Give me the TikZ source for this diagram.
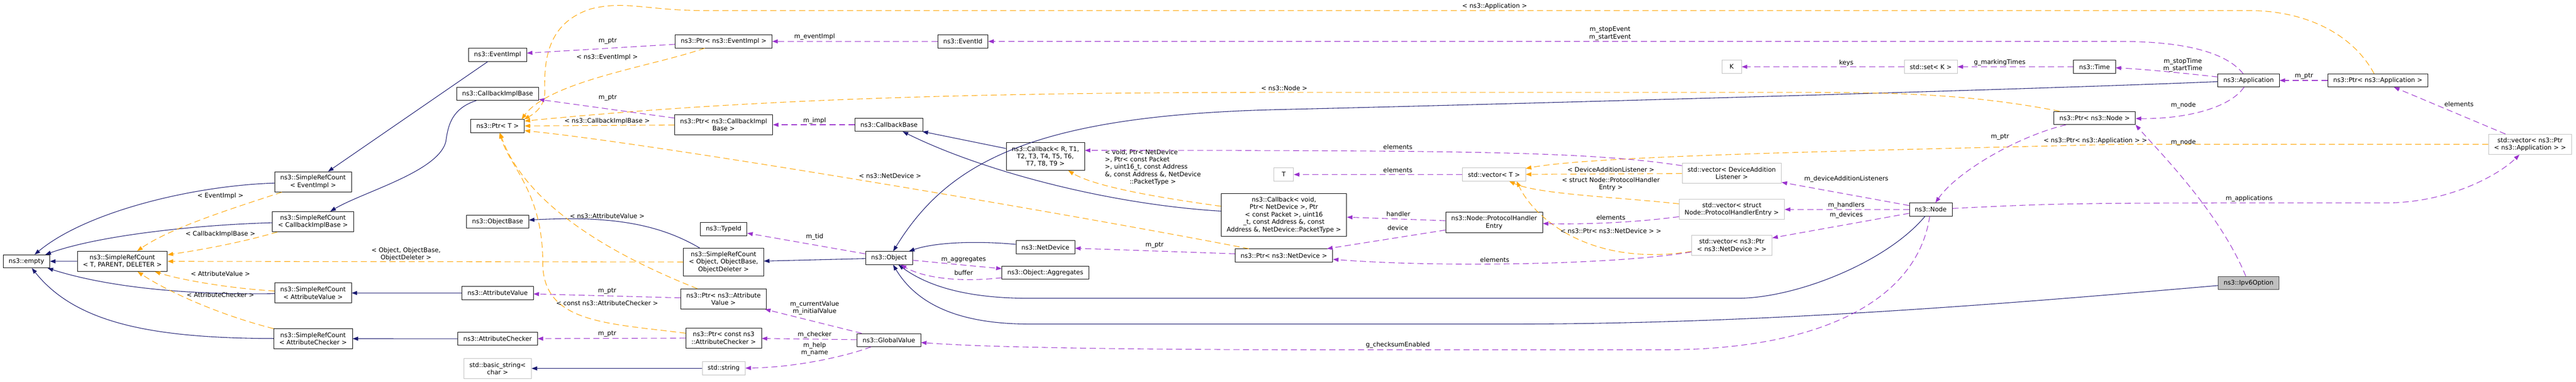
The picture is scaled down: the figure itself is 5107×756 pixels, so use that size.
\documentclass[tikz,border=0pt]{standalone}
\usepackage{fontspec}
\setmainfont{DejaVu Sans}
\usetikzlibrary{arrows.meta}

\definecolor{inhblue}{HTML}{191970}
\definecolor{usepurple}{HTML}{9A32CD}
\definecolor{tplorange}{HTML}{FFA500}
\definecolor{extgray}{HTML}{BFBFBF}
\definecolor{rootgray}{HTML}{404040}

\newcommand{\dxfont}{\fontsize{12.4}{14.7}\selectfont}

\tikzset{
  cls/.style = {draw=black, fill=white, line width=0.9pt, inner xsep=11pt, inner ysep=0pt,
    minimum height=26pt, align=center, font=\dxfont},
  ext/.style = {cls, draw=extgray},
  root/.style = {cls, fill=extgray, draw=rootgray},
  two/.style = {minimum height=40pt},
  three/.style = {minimum height=55pt},
  five/.style = {minimum height=85pt},
  lbl/.style = {inner sep=0pt, align=center, font=\dxfont},
  inh/.style = {draw=inhblue, line width=1.1pt, -{Triangle[length=11pt, width=8pt]}},
  usage/.style = {draw=usepurple, line width=1.1pt, dash pattern=on 12pt off 7pt,
    -{Triangle[length=11pt, width=8pt]}},
  tmpl/.style = {draw=tplorange, line width=1.1pt, dash pattern=on 12pt off 7pt,
    -{Triangle[length=11pt, width=8pt]}},
}

\begin{document}
\begin{tikzpicture}[x=1pt, y=-1pt]
  \fill[white] (0,0) rectangle (5107,756);
  \useasboundingbox (0,0) rectangle (5107,756);

  \node[cls] (empty) at (52.4,517.8) {ns3::empty};
  \node[cls, two] (srcT) at (242.5,517.7) {ns3::SimpleRefCount\\< T, PARENT, DELETER >};
  \node[cls, two] (srcEvent) at (620.7,360.3) {ns3::SimpleRefCount\\< EventImpl >};
  \node[cls, two] (srcCb) at (620.5,439.2) {ns3::SimpleRefCount\\< CallbackImplBase >};
  \node[cls, two] (srcAttrVal) at (620.7,580.5) {ns3::SimpleRefCount\\< AttributeValue >};
  \node[cls, two] (srcAttrChk) at (620.7,671) {ns3::SimpleRefCount\\< AttributeChecker >};

  \node[cls] (eventImpl) at (986.5,108.7) {ns3::EventImpl};
  \node[cls] (cbImplBase) at (986.5,185.8) {ns3::CallbackImplBase};
  \node[cls] (ptrT) at (986.5,249.8) {ns3::Ptr< T >};
  \node[cls] (objectBase) at (986.5,439.2) {ns3::ObjectBase};
  \node[cls] (attrVal) at (986.5,580.5) {ns3::AttributeValue};
  \node[cls] (attrChk) at (986.5,671.2) {ns3::AttributeChecker};
  \node[ext, two] (basicString) at (986.5,730) {std::basic\_string<\\char >};

  \node[cls] (ptrEvent) at (1434.6,82) {ns3::Ptr< ns3::EventImpl >};
  \node[cls, two] (ptrCb) at (1434.6,247.2) {ns3::Ptr< ns3::CallbackImpl\\Base >};
  \node[cls] (typeId) at (1434.6,453.8) {ns3::TypeId};
  \node[cls, three] (srcObject) at (1434.4,519.2) {ns3::SimpleRefCount\\< Object, ObjectBase,\\ObjectDeleter >};
  \node[cls, two] (ptrAttrVal) at (1434.4,592.3) {ns3::Ptr< ns3::Attribute\\Value >};
  \node[cls, two] (ptrAttrChk) at (1434.7,669.7) {ns3::Ptr< const ns3\\::AttributeChecker >};
  \node[ext] (stdString) at (1434.7,729.8) {std::string};

  \node[cls] (eventId) at (1908.8,82) {ns3::EventId};
  \node[cls] (cbBase) at (1762.5,247.2) {ns3::CallbackBase};
  \node[cls] (object) at (1762.5,511.2) {ns3::Object};
  \node[cls] (globalValue) at (1762.3,673.8) {ns3::GlobalValue};
  \node[cls, three] (callbackR) at (2072.5,310) {ns3::Callback< R, T1,\\T2, T3, T4, T5, T6,\\T7, T8, T9 >};
  \node[cls] (netDevice) at (2072.5,489.8) {ns3::NetDevice};
  \node[cls] (aggregates) at (2072.5,540.5) {ns3::Object::Aggregates};

  \node[cls, five] (callbackVoid) at (2545.4,425.8) {ns3::Callback< void,\\Ptr< NetDevice >, Ptr\\< const Packet >, uint16\\\_t, const Address \&, const\\Address \&, NetDevice::PacketType >};
  \node[cls] (ptrNetDevice) at (2545.4,506.2) {ns3::Ptr< ns3::NetDevice >};
  \node[ext, minimum width=39pt] (tT) at (2545,345.8) {T};
  \node[ext] (vectorT) at (2961.9,345.8) {std::vector< T >};
  \node[cls, two] (protoEntry) at (2962.1,440.7) {ns3::Node::ProtocolHandler\\Entry};

  \node[ext, two] (vecListener) at (3433.2,343.3) {std::vector< DeviceAddition\\Listener >};
  \node[ext, two] (vecProto) at (3433.3,415) {std::vector< struct\\Node::ProtocolHandlerEntry >};
  \node[ext, two] (vecDevice) at (3433.3,485.7) {std::vector< ns3::Ptr\\< ns3::NetDevice > >};
  \node[ext, minimum width=39pt] (kK) at (3433,132.3) {K};
  \node[ext] (setK) at (3827.7,132.3) {std::set< K >};
  \node[cls] (nsNode) at (3827.7,415) {ns3::Node};
  \node[cls] (time) at (4152.4,132.3) {ns3::Time};
  \node[cls] (ptrNode) at (4152.6,233.8) {ns3::Ptr< ns3::Node >};

  \node[cls] (application) at (4457.9,159.3) {ns3::Application};
  \node[cls] (ptrApp) at (4714,159.3) {ns3::Ptr< ns3::Application >};
  \node[ext, two] (vecApp) at (5015.8,286) {std::vector< ns3::Ptr\\< ns3::Application > >};
  \node[root] (ipv6) at (4457.8,560.5) {ns3::Ipv6Option};

  % base classes
  \draw[inh] (srcT) -- (empty);
  \draw[inh] (srcEvent) .. controls (380,368) and (170,420) .. (empty);
  \draw[inh] (srcCb) .. controls (400,445) and (200,465) .. (empty);
  \draw[inh] (srcAttrVal) .. controls (350,585) and (200,565) .. (empty);
  \draw[inh] (srcAttrChk) .. controls (300,670) and (150,640) .. (empty);
  \draw[inh] (eventImpl) -- (srcEvent);
  \draw[inh] (cbImplBase) .. controls (895,215) and (888,250) .. (884,280)
    .. controls (870,340) and (720,380) .. (srcCb);
  \draw[inh] (attrVal) -- (srcAttrVal);
  \draw[inh] (attrChk) -- (srcAttrChk);
  \draw[inh] (srcObject) .. controls (1300,440) and (1200,428) .. (objectBase);
  \draw[inh] (object) -- (srcObject);
  \draw[inh] (stdString) -- (basicString);
  \draw[inh] (callbackR) -- (cbBase);
  \draw[inh] (callbackVoid) .. controls (2200,405) and (1950,340) .. (cbBase);
  \draw[inh] (netDevice) .. controls (1950,478) and (1860,478) .. (object);
  \draw[inh] (nsNode) .. controls (3740,520) and (3560,591) .. (3444,591) -- (2040,591)
    .. controls (1900,591) and (1830,560) .. (object);
  \draw[inh] (application) .. controls (4000,178) and (3000,206) .. (2540,217)
    .. controls (2050,228) and (1880,320) .. (object);
  \draw[inh] (ipv6) .. controls (4000,600) and (3500,642) .. (3000,642) -- (2040,642)
    .. controls (1880,642) and (1810,590) .. (object);

  % template instances
  \draw[tmpl] (srcEvent) .. controls (470,410) and (340,450) .. (srcT)
    node[lbl] at (437,388.3) {< EventImpl >};
  \draw[tmpl] (srcCb) .. controls (480,480) and (400,495) .. (srcT)
    node[lbl] at (437,464.3) {< CallbackImplBase >};
  \draw[tmpl] (srcObject) -- (srcT)
    node[lbl] at (805,503.7) {< Object, ObjectBase,\\ ObjectDeleter >};
  \draw[tmpl] (srcAttrVal) .. controls (460,572) and (360,555) .. (srcT)
    node[lbl] at (437,542.7) {< AttributeValue >};
  \draw[tmpl] (srcAttrChk) .. controls (420,620) and (320,570) .. (srcT)
    node[lbl] at (437,584) {< AttributeChecker >};
  \draw[tmpl] (ptrEvent) .. controls (1300,130) and (1090,160) .. ([xshift=-6pt]ptrT.north east)
    node[lbl] at (1203.7,113.7) {< ns3::EventImpl >};
  \draw[tmpl] (ptrCb) -- (ptrT)
    node[lbl] at (1203.7,240) {< ns3::CallbackImplBase >};
  \draw[tmpl] (ptrApp) .. controls (4660,60) and (4560,21) .. (4460,21) -- (1400,21)
    .. controls (1280,21) and (1240,0) .. (1170,18)
    .. controls (1090,45) and (1078,110) .. (1080,180)
    .. controls (1081,210) and (1060,225) .. ([xshift=-1pt]ptrT.north east)
    node[lbl] at (2963.2,12.3) {< ns3::Application >};
  \draw[tmpl] (ptrNode) .. controls (3900,185) and (3750,183) .. (3550,183) -- (2540,183)
    .. controls (1800,183) and (1400,205) .. ([yshift=10pt]ptrT.east)
    node[lbl] at (2546,175) {< ns3::Node >};
  \draw[tmpl] (ptrNetDevice) .. controls (2100,420) and (1300,285) .. ([yshift=-9pt]ptrT.east)
    node[lbl] at (1764.5,348.3) {< ns3::NetDevice >};
  \draw[tmpl] (ptrAttrVal) .. controls (1200,500) and (1040,400) .. (ptrT)
    node[lbl] at (1203.7,428) {< ns3::AttributeValue >};
  \draw[tmpl] (ptrAttrChk) .. controls (1200,640) and (1076,640) .. (1076,520)
    .. controls (1076,380) and (1010,330) .. (ptrT)
    node[lbl] at (1203.7,601) {< const ns3::AttributeChecker >};
  \draw[tmpl] (callbackVoid) .. controls (2300,392) and (2170,370) .. (callbackR)
    node[lbl, align=left, anchor=north west] at (2190,295.5)
    {< void, Ptr< NetDevice\\>, Ptr< const Packet\\>, uint16\_t, const Address\\\&, const Address \&, NetDevice\\\hspace*{49pt}::PacketType >};
  \draw[tmpl] (vecListener) -- (vectorT)
    node[lbl] at (3193.6,336) {< DeviceAdditionListener >};
  \draw[tmpl] (vecApp) -- (4200,286) .. controls (3600,300) and (3150,310) .. (vectorT)
    node[lbl] at (4154,278.7) {< ns3::Ptr< ns3::Application > >};
  \draw[tmpl] (vecProto) .. controls (3200,390) and (3050,385) .. (vectorT)
    node[lbl] at (3193.6,364.7) {< struct Node::ProtocolHandler\\Entry >};
  \draw[tmpl] (vecDevice) .. controls (3150,530) and (3040,430) .. ([xshift=-18pt]vectorT.south east)
    node[lbl] at (3193.6,457.3) {< ns3::Ptr< ns3::NetDevice > >};

  % members
  \draw[usage] (ptrEvent) -- (eventImpl) node[lbl] at (1204.8,81.7) {m\_ptr};
  \draw[usage] (ptrCb) -- (cbImplBase) node[lbl] at (1204.8,193.7) {m\_ptr};
  \draw[usage] (ptrAttrVal) -- (attrVal) node[lbl] at (1203.7,576.7) {m\_ptr};
  \draw[usage] (ptrAttrChk) -- (attrChk) node[lbl] at (1203.7,662) {m\_ptr};
  \draw[usage] (eventId) -- (ptrEvent) node[lbl] at (1615,73.3) {m\_eventImpl};
  \draw[usage] (cbBase) -- (ptrCb) node[lbl] at (1615,239) {m\_impl};
  \draw[usage] (object) -- (typeId) node[lbl] at (1615,469) {m\_tid};
  \draw[usage] (object) -- (aggregates) node[lbl] at (1910.4,514) {m\_aggregates};
  \draw[usage] (aggregates) .. controls (1900,560) and (1830,550) .. (object)
    node[lbl] at (1910.4,540) {buffer};
  \draw[usage] (ptrNetDevice) -- (netDevice) node[lbl] at (2288.9,486) {m\_ptr};
  \draw[usage] (globalValue) -- (ptrAttrVal) node[lbl] at (1615,610) {m\_currentValue\\m\_initialValue};
  \draw[usage] (globalValue) -- (ptrAttrChk) node[lbl] at (1615,662.7) {m\_checker};
  \draw[usage] (globalValue) .. controls (1680,705) and (1580,728) .. (stdString)
    node[lbl] at (1615,692) {m\_help\\m\_name};
  \draw[usage] (vectorT) -- (tT) node[lbl] at (2771.2,337.3) {elements};
  \draw[usage] (vecListener) .. controls (3150,300) and (2900,298) .. ([yshift=12pt]callbackR.east)
    node[lbl] at (2771.2,290.7) {elements};
  \draw[usage] (protoEntry) -- (callbackVoid) node[lbl] at (2772.3,424) {handler};
  \draw[usage] (protoEntry) -- (ptrNetDevice) node[lbl] at (2771.2,451.7) {device};
  \draw[usage] (vecProto) .. controls (3250,440) and (3150,445) .. (protoEntry)
    node[lbl] at (3193.6,431) {elements};
  \draw[usage] (vecDevice) .. controls (3200,525) and (2850,530) .. (ptrNetDevice)
    node[lbl] at (2963.2,515) {elements};
  \draw[usage] (nsNode) -- (vecListener) node[lbl] at (3660.2,355) {m\_deviceAdditionListeners};
  \draw[usage] (nsNode) -- (vecProto) node[lbl] at (3660.2,406.7) {m\_handlers};
  \draw[usage] (nsNode) -- (vecDevice) node[lbl] at (3660.2,426.7) {m\_devices};
  \draw[usage] (nsNode) .. controls (3800,600) and (3600,693) .. (3300,693) -- (2540,693)
    .. controls (2200,692) and (1950,688) .. (globalValue)
    node[lbl] at (2771.2,684) {g\_checksumEnabled};
  \draw[usage] (nsNode) .. controls (4100,402) .. (4730,402)
    .. controls (4850,402) and (4950,350) .. (vecApp)
    node[lbl] at (4459,394) {m\_applications};
  \draw[usage] (setK) -- (kK) node[lbl] at (3660.2,124.3) {keys};
  \draw[usage] (time) -- (setK) node[lbl] at (3964.4,124.3) {g\_markingTimes};
  \draw[usage] (application) .. controls (4330,145) and (4250,137) .. (time)
    node[lbl] at (4327.5,128.8) {m\_stopTime\\m\_startTime};
  \draw[usage] (application) .. controls (4410,100) and (4320,82) .. (4200,82) -- (eventId)
    node[lbl] at (3192,66.3) {m\_stopEvent\\m\_startEvent};
  \draw[usage] (application) .. controls (4420,215) and (4330,236) .. (ptrNode)
    node[lbl] at (4328.6,208.3) {m\_node};
  \draw[usage] (ptrNode) .. controls (4000,270) and (3880,340) .. (nsNode)
    node[lbl] at (3965,271.7) {m\_ptr};
  \draw[usage] (ptrApp) -- (application) node[lbl] at (4567.8,151) {m\_ptr};
  \draw[usage] (vecApp) -- (ptrApp) node[lbl] at (4875,206.7) {elements};
  \draw[usage] (ipv6) .. controls (4400,420) and (4280,300) .. (ptrNode.south east)
    node[lbl] at (4328.6,282.7) {m\_node};
\end{tikzpicture}
\end{document}
